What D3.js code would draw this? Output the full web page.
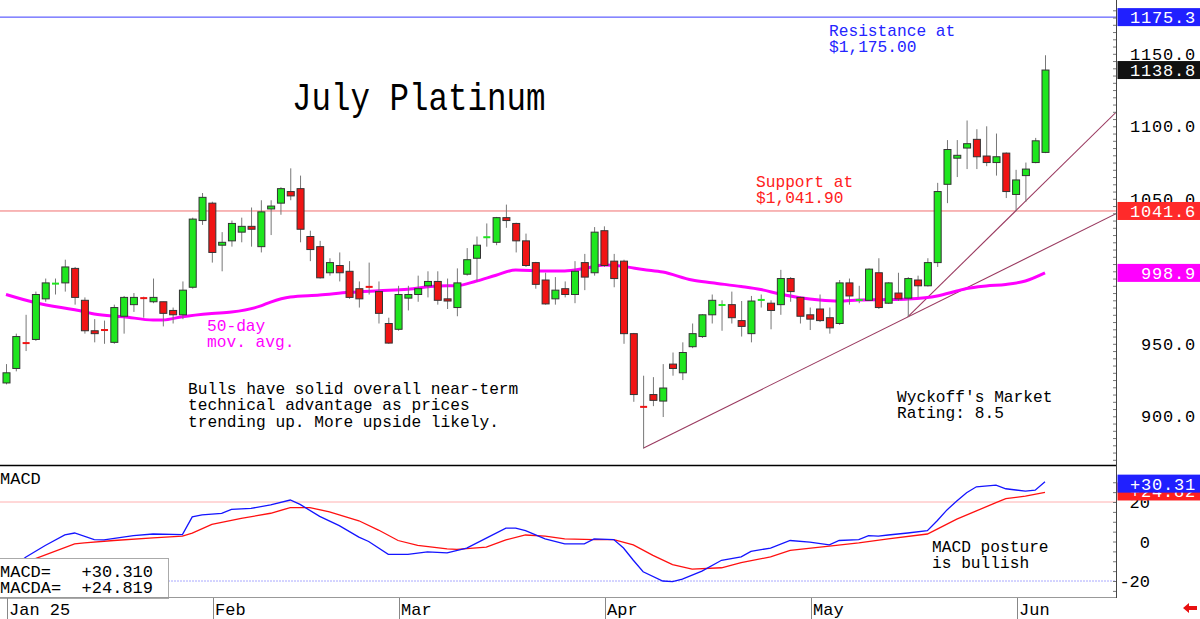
<!DOCTYPE html>
<html>
<head>
<meta charset="utf-8">
<script src="https://cdn.jsdelivr.net/npm/d3@7"></script>
<style>
  body { margin: 0; background: #fff; }
  svg { display: block; }
</style>
</head>
<body>
<div class="container"></div>
<script>
// trading days shown on the chart
const dates = [
  "2025-01-02","2025-01-03","2025-01-06","2025-01-07","2025-01-08","2025-01-09","2025-01-10","2025-01-13","2025-01-14","2025-01-15","2025-01-16","2025-01-17","2025-01-21","2025-01-22","2025-01-23","2025-01-24","2025-01-27","2025-01-28","2025-01-29","2025-01-30","2025-01-31",
  "2025-02-03","2025-02-04","2025-02-05","2025-02-06","2025-02-07","2025-02-10","2025-02-11","2025-02-12","2025-02-13","2025-02-14","2025-02-18","2025-02-19","2025-02-20","2025-02-21","2025-02-24","2025-02-25","2025-02-26","2025-02-27","2025-02-28",
  "2025-03-03","2025-03-04","2025-03-05","2025-03-06","2025-03-07","2025-03-10","2025-03-11","2025-03-12","2025-03-13","2025-03-14","2025-03-17","2025-03-18","2025-03-19","2025-03-20","2025-03-21","2025-03-24","2025-03-25","2025-03-26","2025-03-27","2025-03-28","2025-03-31",
  "2025-04-01","2025-04-02","2025-04-03","2025-04-04","2025-04-07","2025-04-08","2025-04-09","2025-04-10","2025-04-11","2025-04-14","2025-04-15","2025-04-16","2025-04-17","2025-04-21","2025-04-22","2025-04-23","2025-04-24","2025-04-25","2025-04-28","2025-04-29","2025-04-30",
  "2025-05-01","2025-05-02","2025-05-05","2025-05-06","2025-05-07","2025-05-08","2025-05-09","2025-05-12","2025-05-13","2025-05-14","2025-05-15","2025-05-16","2025-05-19","2025-05-20","2025-05-21","2025-05-22","2025-05-23","2025-05-27","2025-05-28","2025-05-29","2025-05-30",
  "2025-06-02","2025-06-03","2025-06-04","2025-06-05"
];

// open, high, low, close for each day above
const ohlc = [
  [923,936,922,930],[933,957,931,955],[951,970,945,950],[953,986,952,984],[981,995,979,992],
  [991,995,984,992],[992,1008,986,1003],[1002,1003,977,982],[980,982,957,959],[959,967,951,957],
  [960,966,950,959],[951,977,950,975],[969,983,957,982],[977,985,972,982],[982,982.5,968,981],
  [979,995,978,982],[979,979,962,971],[973,975,964,970],[970,993,967,987],[989,1037,988,1036],
  [1035,1054,1032,1051],
  [1047,1048,1006,1013],[1018,1027,1000,1020],[1021,1035,1017,1033],[1027,1037,1020,1031],[1031,1044,1017,1029],
  [1017,1049,1013,1041],[1043,1049,1025,1045],[1047,1058,1039,1057],[1055,1071,1049,1052],[1057,1066,1020,1029],
  [1024,1028,1007,1015],[1017,1021,995,995.5],[999,1009,997,1006],[1004,1013,993,999],[1000,1007,981,982],
  [988,993,975,981],[989.5,1006,984,989],[986,993,964,971],[964,968,950,950.5],
  [960,990,959,984],[981.5,990,973,984],[984,997,979,988],[990,1000,982,993],[993,1000,977,980],
  [981,995,974,979.5],[975,1002,969,992],[998,1016,997,1008],[1009,1024,993,1018],[1023,1033,1017,1024],
  [1020,1037.5,1018,1037],[1037,1046,1030,1035],[1033,1033.5,1013,1021],[1021,1026,1003,1004],[1006,1006.5,988,991],
  [994,999,977,977.5],[981,996,977,987],[988,993,982,984],[984,1007,978,1000],[1006,1012,987,996],
  [999,1030.5,997,1027],
  [1028,1031,1003,1004],[1007,1012,989,995],[1007,1008,950,957],[957,957.5,910,915],[907,928,878,906],
  [915,927,907,911],[910.5,936,899.5,919.5],[936,944,928,933],[930,951,925,944],[948,964,947,957],
  [955,970.5,954,970],[970,984,964,980],[976.5,980,959,977],[977,986,964,968],[966,979.5,955,962],
  [957,983,951,979.5],[980,984,975,980.5],[978,980,960,973],[977,1001,970,995],[995,996,979,986],
  [982,982.5,964,969],
  [970,975,959.5,967],[974,984,965,966],[968,975,957,961],[964,994,963,992],[992,995,977,983],
  [980,990,978,980.5],[980,1002,979.5,1001.5],[999,1009,974,975],[978,992.5,977.5,992],[985,999,979.5,981],
  [981.5,996,968.5,995],[994,997,982,990],[990,1009,989.5,1006],[1006,1061,1003,1055],[1060,1090.5,1047,1084],
  [1078,1090.5,1065,1080],[1085,1104,1070.5,1088],[1091,1098,1070.5,1079],[1079.5,1100,1072.5,1075],[1075,1095,1066,1079],
  [1081.5,1082,1050.5,1055],
  [1053,1070,1041.6,1063],[1066,1075,1048,1070.5],[1075,1092,1074.5,1090],[1082,1149,1081.5,1138.8]
];

// 50-day moving average, [day index, value]
const movingAvg = [
  [0,984],[3,978.3],[8,972.1],[9,970.5],[12,968.7],[15,966.4],[16,966.4],[18,968.7],[21,970.9],[23,971.9],
  [26,976.1],[27,978.8],[29,982.3],[32,983.6],[35,985.5],[38,986.6],[41,987.6],[44,989.9],[46,990.1],[48,993.3],
  [50,997.3],[52,1000.9],[55,1000.2],[57,1000.2],[59,1001.9],[61,1004.3],[63,1003.4],[65,1001.2],[67,999.5],[70,994],
  [72,992.1],[75,989.5],[77,987.4],[79,984.3],[81,981.8],[83,980.2],[85,979.5],[87,980.2],[90,980.5],[92,980.9],
  [95,983],[97,986.4],[98,988.1],[100,989.9],[102,990.9],[104,993.3],[106,998.9]
];

// MACD and its average, [day index, value]
const macd = [
  [0,-16],[2,-8],[4,-2],[6,3.3],[7,4.3],[9,1],[10,0.8],[13,3],[15,3.8],[18,3.5],[19,12.5],[20,13.5],
  [22,14.2],[23,16.3],[25,16.8],[27,18.5],[29,21],[30,18.8],[32,12.7],[34,8],[36,2.2],[37,0],[39,-6.5],
  [41,-6.5],[43,-5.3],[45,-5.8],[47,-3.3],[49,1.7],[51,6.8],[52,6.8],[53,5.5],[55,1.3],[57,-1.2],[59,-1.2],
  [60,1.3],[62,1],[63,-3.3],[64,-9.5],[65,-15.3],[67,-20],[68,-20.3],[69,-19],[71,-15],[73,-9.5],[75,-7.8],
  [76,-5],[78,-3.3],[80,0.5],[82,-0.3],[84,-1.7],[85,0.5],[87,1],[88,3],[89,2.7],[90,3.3],[92,4.3],[94,5.5],
  [95,10.5],[96,16],[97,20.5],[98,24.7],[99,27.7],[101,28.5],[102,26.7],[104,25.5],[105,26],[106,30.31]
];
const macdAvg = [
  [0,-14],[3,-8.7],[7,-1.2],[8,-0.7],[11,0.5],[15,1.8],[18,2.7],[19,4.2],[21,8.7],[24,11.7],[27,14.3],
  [29,17.2],[31,17.2],[33,15],[36,10.5],[38,5.8],[40,0.5],[42,-2],[45,-3.7],[46,-4],[49,-2.8],[51,0.8],
  [53,3.3],[55,2.7],[57,1.3],[60,1],[62,1],[64,-1.7],[66,-7],[68,-11.7],[70,-14],[73,-13.3],[75,-10.7],
  [78,-7.8],[80,-4.5],[84,-2.3],[87,-0.7],[90,1.3],[94,3.8],[95,6.3],[97,11.3],[99,15.5],[101,19.7],
  [102,21.7],[104,23],[106,24.819]
];

const priceTicks = [900, 950, 1050, 1100, 1150];
const macdTicks = [-20, 0, 20];
const monthStarts = [["2025-01-02","Jan 25"],["2025-02-03","Feb"],["2025-03-03","Mar"],["2025-04-01","Apr"],["2025-05-01","May"],["2025-06-02","Jun"]];
const resistance = 1175.3, support = 1041.6;
// trendlines join the lows of these days
const trendlines = [[65, 92], [92, 103]];

const FONT = "'Liberation Mono', 'DejaVu Sans Mono', monospace";
const W = 1200, H = 619;
const plotRight = 1116;

const svg = d3.select(".container").append("svg")
    .attr("width", W).attr("height", H)
    .style("font-family", FONT);

svg.append("rect").attr("width", W).attr("height", H).attr("fill", "#fff");

const x = d3.scalePoint().domain(dates).range([6, 1045]);
const y = d3.scaleLinear().domain([900, 1150]).range([416.3, 53.8]);
const ym = d3.scaleLinear().domain([-20, 20]).range([581, 502]);

svg.append("clipPath").attr("id", "main-clip")
    .append("rect").attr("x", 0).attr("y", 0).attr("width", plotRight).attr("height", 465);

const main = svg.append("g").attr("clip-path", "url(#main-clip)");

// horizontal resistance / support lines
main.append("line").attr("x1", 0).attr("x2", plotRight)
    .attr("y1", y(resistance)).attr("y2", y(resistance))
    .attr("stroke", "#3a3aff").attr("stroke-width", 1);
main.append("line").attr("x1", 0).attr("x2", plotRight)
    .attr("y1", y(support)).attr("y2", y(support))
    .attr("stroke", "#f07070").attr("stroke-width", 1);

// trendlines from lows, extended to the right edge
trendlines.forEach(([a, b]) => {
    const x1 = x(dates[a]), y1 = y(ohlc[a][2]);
    const x2 = x(dates[b]), y2 = y(ohlc[b][2]);
    const slope = (y2 - y1) / (x2 - x1);
    main.append("line")
        .attr("x1", x1).attr("y1", y1)
        .attr("x2", plotRight).attr("y2", y1 + slope * (plotRight - x1))
        .attr("stroke", "#9a3a60").attr("stroke-width", 1.1);
});

// moving average
main.append("path")
    .datum(movingAvg)
    .attr("fill", "none")
    .attr("stroke", "#ff00ff")
    .attr("stroke-width", 3)
    .attr("d", d3.line().x(d => x(dates[d[0]])).y(d => y(d[1])).curve(d3.curveMonotoneX));

// candles
const candles = main.selectAll("g.candle")
    .data(ohlc)
    .enter()
    .append("g")
    .attr("class", "candle");

candles.append("line")
    .attr("x1", (d, i) => x(dates[i]) + 0.5)
    .attr("x2", (d, i) => x(dates[i]) + 0.5)
    .attr("y1", d => y(d[1]))
    .attr("y2", d => y(d[2]))
    .attr("stroke", "#777")
    .attr("stroke-width", 1);

candles.append("rect")
    .attr("x", (d, i) => x(dates[i]) - 3)
    .attr("width", 7)
    .attr("y", d => {
        const top = y(Math.max(d[0], d[3])), bot = y(Math.min(d[0], d[3]));
        return bot - top < 2 ? (top + bot) / 2 - 1 : top;
    })
    .attr("height", d => Math.max(2, y(Math.min(d[0], d[3])) - y(Math.max(d[0], d[3]))))
    .attr("fill", d => d[3] >= d[0] ? "#1ee61e" : "#f01414")
    .attr("stroke", d => Math.abs(y(d[0]) - y(d[3])) < 2 ? "none" : "#333")
    .attr("stroke-width", 1);

// titles and notes
svg.append("text")
    .attr("transform", "translate(292,110) scale(1,1.18)")
    .attr("font-size", 32.5)
    .attr("fill", "#000")
    .text("July Platinum");

function note(lines, x0, y0, color) {
    const t = svg.append("text").attr("font-size", 16.2).attr("fill", color);
    lines.forEach((s, i) => {
        t.append("tspan").attr("x", x0).attr("y", y0 + i * 16.3).text(s);
    });
}
note(["Resistance at", "$1,175.00"], 829, 36, "#2424ff");
note(["Support at", "$1,041.90"], 756, 187, "#ff2020");
note(["50-day", "mov. avg."], 207, 331, "#ff00ff");
note(["Bulls have solid overall near-term", "technical advantage as prices", "trending up. More upside likely."], 188, 394, "#000");
note(["Wyckoff's Market", "Rating: 8.5"], 897, 402, "#000");
note(["MACD posture", "is bullish"], 932, 552, "#000");

// MACD panel
svg.append("line").attr("x1", 0).attr("x2", plotRight).attr("y1", 465.5).attr("y2", 465.5)
    .attr("stroke", "#000").attr("stroke-width", 1.6);
svg.append("line").attr("x1", 0).attr("x2", plotRight).attr("y1", ym(20)).attr("y2", ym(20))
    .attr("stroke", "#ffb0b0").attr("stroke-width", 1);
svg.append("line").attr("x1", 0).attr("x2", plotRight).attr("y1", ym(-20)).attr("y2", ym(-20))
    .attr("stroke", "#a8a8ff").attr("stroke-width", 1).attr("stroke-dasharray", "2,1");

const macdLine = d3.line().x(d => x(dates[d[0]])).y(d => ym(d[1]));
svg.append("path").datum(macdAvg)
    .attr("fill", "none").attr("stroke", "#ff1010").attr("stroke-width", 1.3)
    .attr("d", macdLine);
svg.append("path").datum(macd)
    .attr("fill", "none").attr("stroke", "#1414ff").attr("stroke-width", 1.3)
    .attr("d", macdLine);

svg.append("text").attr("x", 0).attr("y", 484).attr("font-size", 17).text("MACD");

svg.append("rect").attr("x", -1).attr("y", 558.5).attr("width", 169.5).attr("height", 40)
    .attr("fill", "#fff").attr("stroke", "#aaa").attr("stroke-width", 1);
svg.append("text").attr("x", 0).attr("y", 577).attr("font-size", 17).attr("xml:space", "preserve")
    .text("MACD=   " + "+" + macd[macd.length - 1][1].toFixed(3));
svg.append("text").attr("x", 0).attr("y", 593).attr("font-size", 17).attr("xml:space", "preserve")
    .text("MACDA=  " + "+" + macdAvg[macdAvg.length - 1][1].toFixed(3));

// bottom date axis
svg.append("line").attr("x1", 0).attr("x2", plotRight).attr("y1", 597.5).attr("y2", 597.5)
    .attr("stroke", "#999").attr("stroke-width", 1);
monthStarts.forEach(([d, label]) => {
    const mx = Math.round(x(d)) + 1.5;
    svg.append("line").attr("x1", mx).attr("x2", mx).attr("y1", 598).attr("y2", 619)
        .attr("stroke", "#888").attr("stroke-width", 1);
    svg.append("text").attr("x", mx + 1.5).attr("y", 615).attr("font-size", 17).text(label);
});

// right axes
svg.append("line").attr("x1", plotRight + 0.5).attr("x2", plotRight + 0.5).attr("y1", 0).attr("y2", 598)
    .attr("stroke", "#444").attr("stroke-width", 1);

const priceAxis = d3.axisLeft(y)
    .tickValues(d3.range(870, 1185, 5))
    .tickSize(3)
    .tickFormat("");
svg.append("g").attr("transform", `translate(${plotRight},0)`).call(priceAxis)
    .call(g => g.select(".domain").remove())
    .call(g => g.selectAll("line").attr("stroke", "#777"));

const macdAxis = d3.axisLeft(ym)
    .tickValues(d3.range(-25, 35, 5))
    .tickSize(3)
    .tickFormat("");
svg.append("g").attr("transform", `translate(${plotRight},0)`).call(macdAxis)
    .call(g => g.select(".domain").remove())
    .call(g => g.selectAll("line").attr("stroke", "#777"));

priceTicks.forEach(v => {
    svg.append("text").attr("x", 1196).attr("y", y(v) + 6)
        .attr("text-anchor", "end").attr("font-size", 17).attr("letter-spacing", 0.8)
        .text(v.toFixed(1));
});
macdTicks.forEach(v => {
    svg.append("text").attr("x", 1150).attr("y", ym(v) + 6)
        .attr("text-anchor", "end").attr("font-size", 17)
        .text(v);
});

function valueTag(v, yy, fill, label) {
    svg.append("rect").attr("x", 1117.5).attr("y", yy - 9).attr("width", 83).attr("height", 18).attr("fill", fill);
    svg.append("text").attr("x", 1196).attr("y", yy + 6)
        .attr("text-anchor", "end").attr("font-size", 17).attr("letter-spacing", 0.8)
        .attr("fill", "#fff").text(label);
}
valueTag(resistance, y(resistance), "#2020ff", resistance.toFixed(1));
valueTag(ohlc[ohlc.length - 1][3], y(ohlc[ohlc.length - 1][3]), "#111", ohlc[ohlc.length - 1][3].toFixed(1));
valueTag(support, y(support), "#ff2a2a", support.toFixed(1));
valueTag(movingAvg[movingAvg.length - 1][1], y(movingAvg[movingAvg.length - 1][1]), "#ff00ff", movingAvg[movingAvg.length - 1][1].toFixed(1));
const lastAvg = macdAvg[macdAvg.length - 1][1], lastMacd = macd[macd.length - 1][1];
valueTag(lastAvg, ym(lastAvg) - 1, "#ff2020", "+" + lastAvg.toFixed(2));
valueTag(lastMacd, ym(lastMacd) + 2, "#2020ff", "+" + lastMacd.toFixed(2));

// small red arrow, bottom right
svg.append("path")
    .attr("d", "M1183,608 L1189,603 L1189,606 L1197,606 L1197,610 L1189,610 L1189,613 Z")
    .attr("fill", "#e81010");
</script>
</body>
</html>
